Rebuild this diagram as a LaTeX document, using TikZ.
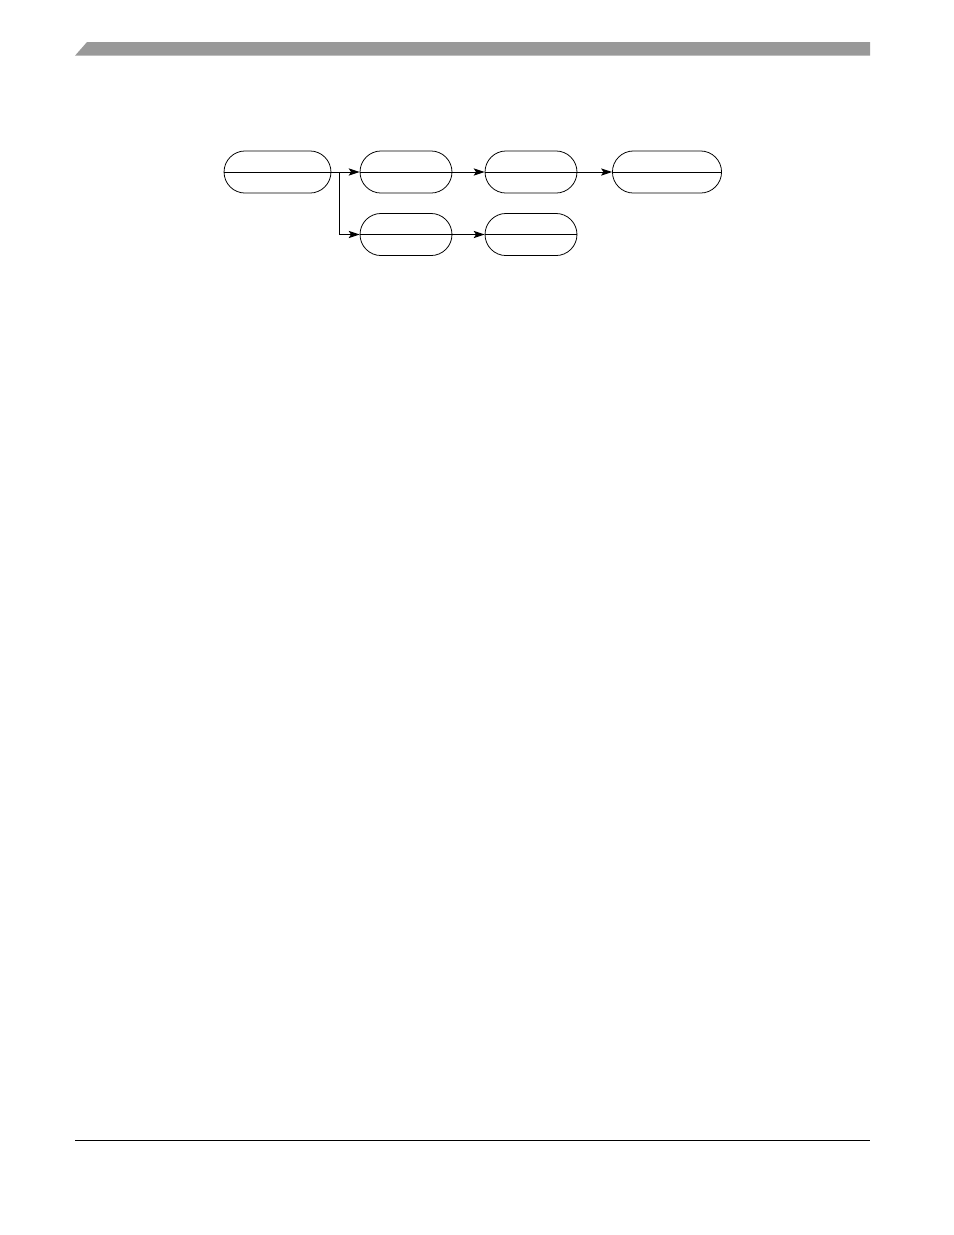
\documentclass[tikz,border=0pt]{standalone}
\usetikzlibrary{shapes.misc,arrows.meta}
\definecolor{bargray}{RGB}{153,153,153}
\tikzset{
    stage/.style={draw, rounded rectangle, line width=0.5pt, minimum height=27pt, inner sep=0pt},
    flow/.style={line width=0.6pt, -{Stealth[length=7pt,width=4.6pt,inset=1.5pt]}},
    split/.style={line width=0.6pt}
}
\begin{document}
\begin{tikzpicture}[x=0.6415pt,y=-0.6415pt]
    \useasboundingbox (0,0) rectangle (954,1235);
    % header bar and footer rule
    \fill[bargray] (75,55.7) -- (87,42) -- (870,42) -- (870,55.7) -- cycle;
    \draw[line width=0.6pt] (75,1140) -- (870,1140);

    \node[stage, minimum width=68.6pt] (init) at (277.5,172) {};
    \node[stage, minimum width=59pt] (top1) at (406,172) {};
    \node[stage, minimum width=59pt] (top2) at (531,172) {};
    \node[stage, minimum width=70pt] (top3) at (667,172) {};
    \node[stage, minimum width=59pt] (low1) at (406,234.5) {};
    \node[stage, minimum width=59pt] (low2) at (531,234.5) {};
    \coordinate (fork) at (339,172);

    % midlines through each stage
    \foreach \n in {init,top1,top2,top3,low1,low2}{
        \draw[split] (\n.west) -- (\n.east);
    };
    \draw[split] (init.east) -- (fork);
    \draw[flow] (fork) -- (top1.west);
    \draw[flow] (fork) |- (low1.west);
    \draw[flow] (top1.east) -- (top2.west);
    \draw[flow] (top2.east) -- (top3.west);
    \draw[flow] (low1.east) -- (low2.west);
\end{tikzpicture}
\end{document}
